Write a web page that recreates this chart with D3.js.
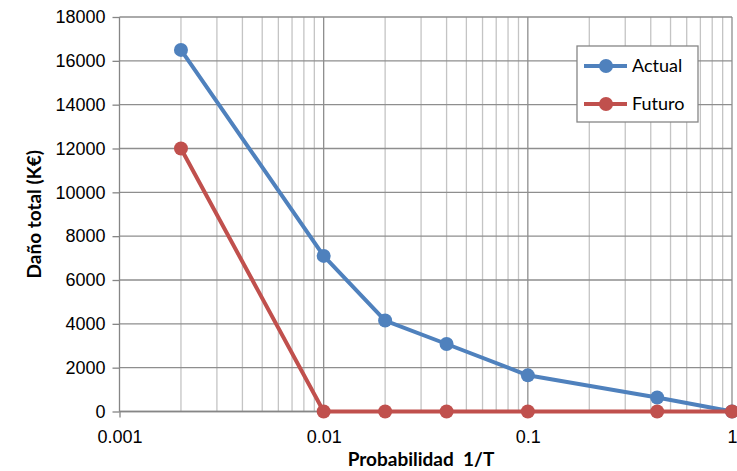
<!DOCTYPE html>
<html>
<head>
<meta charset="utf-8">
<script src="https://cdn.jsdelivr.net/npm/d3@7"></script>
<style>
    body { margin: 0; background: #fff; }
    svg { display: block; font-family: Lato, "Open Sans", sans-serif; }
    .tick text { font-size: 18px; fill: #000; }
    .title { font-size: 19px; font-weight: bold; }
</style>
</head>
<body>
<svg id="chart" width="737" height="471"></svg>
<script>
// probabilities 1/T
var probs = [0.002, 0.01, 0.02, 0.04, 0.1, 0.43, 1];
var actual = [16500, 7100, 4150, 3080, 1650, 640, 0];
var futuro = [12000, 0, 0, 0, 0, 0, 0];

var seriesNames = ['Actual', 'Futuro'];
var seriesColors = ['#4F81BD', '#C0504D'];

var xTicks = [0.001, 0.01, 0.1, 1];
var xTickLabels = ['0.001', '0.01', '0.1', '1'];
var yTicks = d3.range(0, 18001, 2000);

var svg = d3.select('#chart');

var x = d3.scaleLog().domain([0.001, 1]).range([119.5, 732]);
var y = d3.scaleLinear().domain([0, 18000]).range([411.5, 17]);

// minor vertical grid
var minor = [];
[0.001, 0.01, 0.1].forEach(d => {
    for (var k = 2; k <= 9; k++) minor.push(d * k);
});

svg.append('g')
    .selectAll('line')
    .data(minor)
    .enter().append('line')
    .attr('x1', d => x(d)).attr('x2', d => x(d))
    .attr('y1', y(18000)).attr('y2', y(0))
    .attr('stroke', '#c4c4c4')
    .attr('stroke-width', 1.3);

// horizontal grid
svg.append('g')
    .selectAll('line')
    .data(yTicks)
    .enter().append('line')
    .attr('x1', x(0.001)).attr('x2', x(1))
    .attr('y1', d => y(d)).attr('y2', d => y(d))
    .attr('stroke', '#8e8e8e')
    .attr('stroke-width', 1.3);

// major vertical grid
svg.append('g')
    .selectAll('line')
    .data(xTicks.slice(1))
    .enter().append('line')
    .attr('x1', d => x(d)).attr('x2', d => x(d))
    .attr('y1', y(18000)).attr('y2', y(0))
    .attr('stroke', '#8e8e8e')
    .attr('stroke-width', 1.3);

// axes
var yAxis = d3.axisLeft(y).tickValues(yTicks).tickSize(7).tickPadding(7).tickFormat(d3.format('d'));
var xAxis = d3.axisBottom(x).tickValues(xTicks).tickSize(6).tickPadding(16)
    .tickFormat((d, i) => xTickLabels[i]);

var gY = svg.append('g')
    .attr('transform', 'translate(' + x(0.001) + ',0)')
    .call(yAxis);
var gX = svg.append('g')
    .attr('transform', 'translate(0,' + y(0) + ')')
    .call(xAxis);

[gX, gY].forEach(g => {
    g.selectAll('.domain').attr('stroke', '#868686').attr('stroke-width', 1.3);
    g.selectAll('.tick line').attr('stroke', '#868686').attr('stroke-width', 1.3);
});
gY.selectAll('.domain').attr('d', 'M0,' + y(18000) + 'V' + y(0));
gX.selectAll('.domain').attr('d', 'M' + x(0.001) + ',0H' + x(1));
gX.selectAll('.tick text').attr('dy', '0.55em');

// axis titles
svg.append('text')
    .attr('class', 'title')
    .attr('transform', 'translate(41,' + ((y(0) + y(18000)) / 2) + ') rotate(-90)')
    .attr('text-anchor', 'middle')
    .text('Daño total (K€)');

svg.append('text')
    .attr('class', 'title')
    .attr('x', 421)
    .attr('y', 466)
    .attr('text-anchor', 'middle')
    .attr('xml:space', 'preserve')
    .text('Probabilidad  1/T');

// series
var line = d3.line()
    .x(d => x(d[0]))
    .y(d => y(d[1]));

[actual, futuro].forEach((values, i) => {
    var pts = probs.map((p, j) => [p, values[j]]);
    var g = svg.append('g');
    g.append('path')
        .attr('d', line(pts))
        .attr('fill', 'none')
        .attr('stroke', seriesColors[i])
        .attr('stroke-width', 4)
        .attr('stroke-linejoin', 'round');
    g.selectAll('circle')
        .data(pts)
        .enter().append('circle')
        .attr('cx', d => x(d[0]))
        .attr('cy', d => y(d[1]))
        .attr('r', 7)
        .attr('fill', seriesColors[i]);
});

// legend
var legend = svg.append('g').attr('transform', 'translate(577,46)');
legend.append('rect')
    .attr('width', 121).attr('height', 76)
    .attr('fill', '#fff')
    .attr('stroke', '#868686')
    .attr('stroke-width', 1.3);

var item = legend.selectAll('g.item')
    .data(seriesNames)
    .enter().append('g')
    .attr('class', 'item')
    .attr('transform', (d, i) => 'translate(0,' + (20 + i * 38) + ')');
item.append('line')
    .attr('x1', 7).attr('x2', 50)
    .attr('stroke', (d, i) => seriesColors[i])
    .attr('stroke-width', 4);
item.append('circle')
    .attr('cx', 29).attr('r', 7)
    .attr('fill', (d, i) => seriesColors[i]);
item.append('text')
    .attr('x', 55).attr('dy', '0.35em')
    .style('font-size', '18px')
    .text(d => d);
</script>
</body>
</html>
